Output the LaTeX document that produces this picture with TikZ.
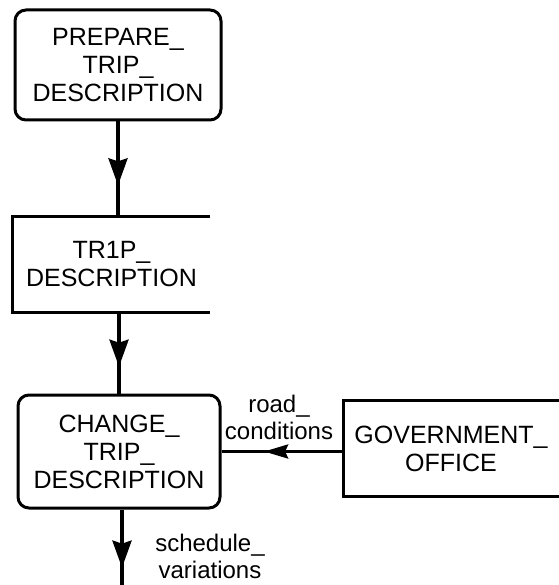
\documentclass[tikz,border=0pt]{standalone}
\usepackage{fontspec}
\setmainfont{Liberation Sans}
\usetikzlibrary{arrows.meta,decorations.markings}
\begin{document}
\begin{tikzpicture}[x=1pt,y=-1pt,
  process/.style={draw, line width=3pt, rounded corners=11pt, align=center,
    font=\fontsize{25}{28}\selectfont, inner sep=0pt},
  storebox/.style={align=center, font=\fontsize{25}{28}\selectfont, inner sep=0pt},
  storeline/.style={line width=3pt},
  flowlabel/.style={align=center, font=\fontsize{24}{27}\selectfont, inner sep=0pt},
  flowv/.style={line width=3.5pt, postaction={decorate},
    decoration={markings, mark=at position #1 with
      {\arrow{Stealth[length=27pt,width=19pt,inset=3pt]}}}},
  flowh/.style={line width=3pt, postaction={decorate},
    decoration={markings, mark=at position #1 with
      {\arrow{Stealth[length=24pt,width=14pt,inset=3pt]}}}},
]
\useasboundingbox (0,0) rectangle (558,585);

% processes
\node[process, minimum width=206pt, minimum height=110pt] (prep) at (118,65)
  {PREPARE\_\\TRIP\_\\DESCRIPTION};
\node[process, minimum width=202pt, minimum height=113pt] (change) at (119,451.5)
  {CHANGE\_\\TRIP\_\\DESCRIPTION};

% data stores (open on the right)
\node[storebox, minimum width=197pt, minimum height=95pt] (trip) at (111.5,264.5)
  {TR1P\_\\DESCRIPTION};
\draw[storeline] (trip.north east) -- (trip.north west) -- (trip.south west) -- (trip.south east);

\node[storebox, minimum width=215pt, minimum height=95pt] (gov) at (451,448.5)
  {GOVERNMENT\_\\OFFICE};
\draw[storeline] (gov.north east) -- (gov.north west) -- (gov.south west) -- (gov.south east);

% flows
\coordinate (out) at (122,585);
\draw[flowv=0.67] (prep.south) -- (prep.south |- trip.north);
\draw[flowv=0.67] (change.north |- trip.south) -- (change.north);
\draw[flowv=0.77] ([xshift=3pt]change.south) -- ([xshift=3pt]change.south |- out);
\draw[flowh=0.65] (gov.west |- change.east) -- (change.east);

% flow labels
\node[flowlabel] (roadlbl) at (279,417) {road\_\\conditions};
\node[flowlabel] (schedlbl) at (210,556) {schedule\_\\variations};
\end{tikzpicture}
\end{document}
